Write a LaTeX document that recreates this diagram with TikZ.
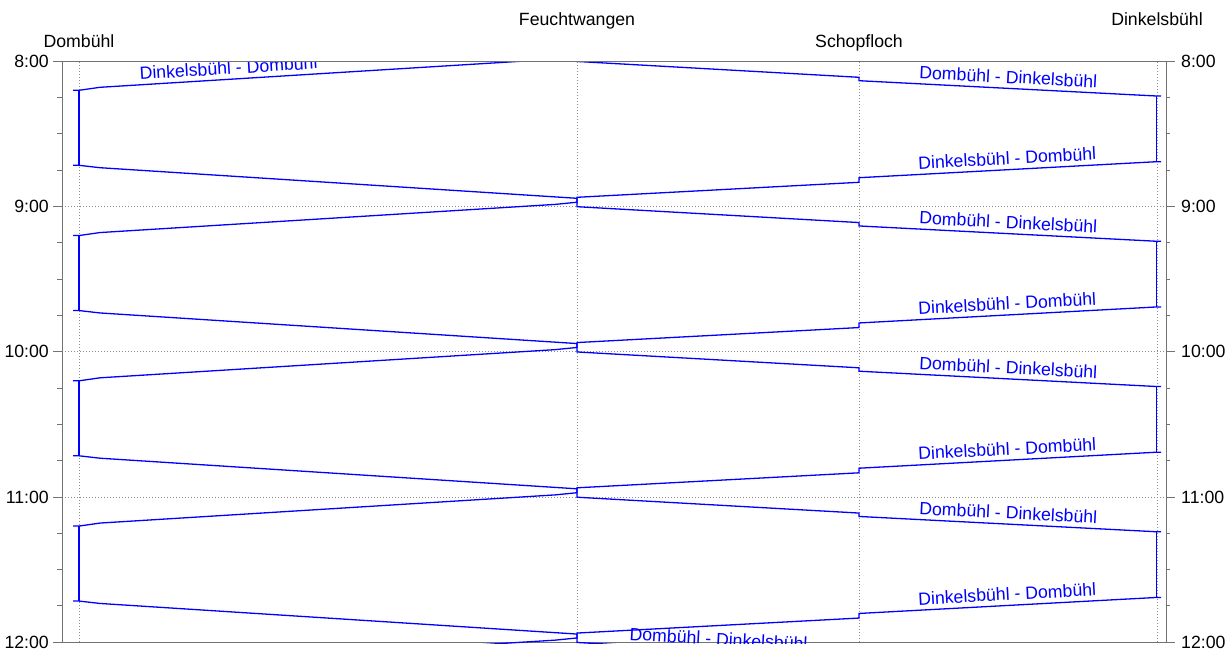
\documentclass[tikz,border=0pt]{standalone}
\usepackage{fontspec}
\setmainfont{Liberation Sans}
\definecolor{trainblue}{RGB}{0,0,255}
\newcommand\chartfont{\fontsize{17.7}{21}\selectfont}
\begin{document}
\begin{tikzpicture}[x=1pt,y=-1pt,
  frame/.style={draw=black!55, line width=0.9pt},
  gridline/.style={draw=black!45, line width=0.7pt, dash pattern=on 1pt off 2pt},
  train/.style={draw=trainblue, line width=1.3pt, line join=miter},
  trainlabel/.style={text=trainblue, font=\chartfont, inner sep=0pt, sloped, above=4.8pt},
  station/.style={font=\chartfont, inner sep=0pt, anchor=base},
  hourlabel/.style={font=\chartfont, inner sep=0pt}]
\useasboundingbox (0,0) rectangle (1230,651);

% time grid (hours) and station lines
\foreach \y in {206.5,351.75,497} \draw[gridline] (62,\y) -- (1166,\y);
\foreach \x in {79,577,859,1157} \draw[gridline] (\x,62) -- (\x,642);

% chart frame with quarter-hour ticks
\draw[frame] (62,61.25) rectangle (1166,642.25);
\foreach \i in {1,...,15} {
  \pgfmathsetmacro\ty{61.25+36.3125*\i}
  \draw[frame] (57,\ty) -- (62,\ty);
  \draw[frame] (1166,\ty) -- (1170,\ty);
}
\foreach \i/\t in {0/8:00,1/9:00,2/10:00,3/11:00,4/12:00} {
  \pgfmathsetmacro\ty{61.25+145.25*\i}
  \draw[frame] (53,\ty) -- (62,\ty);
  \draw[frame] (1166,\ty) -- (1175,\ty);
  \node[hourlabel, anchor=east] (tl\i) at (49,\ty) {\t};
  \node[hourlabel, anchor=west] (tr\i) at (1181,\ty) {\t};
}

% station names
\node[station] (dom) at (79,47) {Dombühl};
\node[station] (feu) at (577,25) {Feuchtwangen};
\node[station] (sch) at (859,47) {Schopfloch};
\node[station] (dkb) at (1157,25) {Dinkelsbühl};

% hourly train paths
\begin{scope}
\clip (62.5,62.5) rectangle (1165.5,643.5);
\foreach \h in {-1,...,3} {
  \pgfmathsetmacro\dy{145.25*\h}
  \begin{scope}[shift={(0,\dy)}]
    % Dombühl -> Dinkelsbühl
    \draw[train] (73,165.3) -- (79,165.3) -- (100,167.7) -- (577,198.3) -- (577,206.7)
      -- (859,222.55) -- (859,225.95) -- (1156.5,241.25) -- (1161,241.25);
    % Dinkelsbühl -> Dombühl
    \draw[train] (1161,161.7) -- (1156.5,161.7) -- (859,177.7) -- (859,182.3)
      -- (577,197.3) -- (577,202.2) -- (555,204.4) -- (100,232.55) -- (79,235.55) -- (73,235.55);
    % turnarounds at the terminals
    \draw[train] (79,90.3) -- (79,165.3);
    \draw[train] (1156.5,96) -- (1156.5,161.7);
    \ifnum\h<3
      \path (859,225.95) -- (1156.5,241.25) node[trainlabel, midway] {Dombühl - Dinkelsbühl};
    \else
      \path (577,206.7) -- (859,222.55) node[trainlabel, midway] {Dombühl - Dinkelsbühl};
    \fi
    \ifnum\h>-1
      \path (859,177.7) -- (1156.5,161.7) node[trainlabel, midway] {Dinkelsbühl - Dombühl};
    \else
      \path (100,232.55) -- (555,204.4) node[trainlabel, pos=0.284] {Dinkelsbühl - Dombühl};
    \fi
  \end{scope}
}
\end{scope}
\end{tikzpicture}
\end{document}
